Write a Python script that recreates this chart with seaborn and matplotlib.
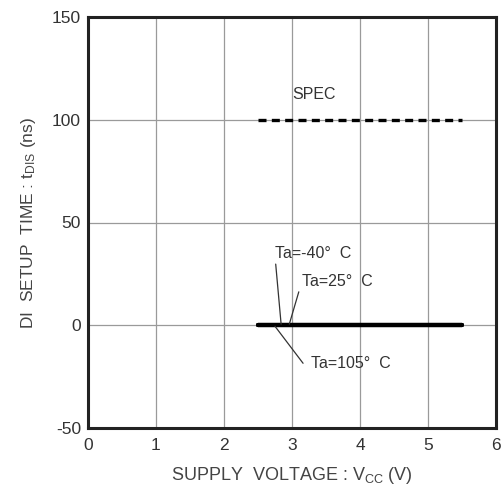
import matplotlib
matplotlib.use("Agg")
import matplotlib.pyplot as plt
import seaborn as sns
import pandas as pd

# Data
voltage = [2.5, 3.0, 3.5, 4.0, 4.5, 5.0, 5.5]
t_m40 = [0, 0, 0, 0, 0, 0, 0]
t_25 = [0, 0, 0, 0, 0, 0, 0]
t_105 = [0, 0, 0, 0, 0, 0, 0]
spec_v = [2.5, 5.5]
spec_t = [100, 100]
x_ticks = [0, 1, 2, 3, 4, 5, 6]
y_ticks = [-50, 0, 50, 100, 150]

sns.set_theme(style="white")
plt.rcParams['font.family'] = ['Liberation Sans', 'DejaVu Sans']

fig = plt.figure(figsize=(5.04, 4.91), dpi=100)
ax = fig.add_axes([88/504, 1-428/491, (496-88)/504, (428-17)/491])

df = pd.DataFrame({
    "V": voltage * 3,
    "t": t_m40 + t_25 + t_105,
    "Ta": ["-40"] * len(voltage) + ["25"] * len(voltage) + ["105"] * len(voltage),
})
sns.lineplot(data=df, x="V", y="t", units="Ta", estimator=None, color="black",
             linewidth=3, ax=ax, legend=False)
sns.lineplot(x=spec_v, y=spec_t, color="black", linewidth=2.4, linestyle=(0, (2.4, 1.6)), ax=ax)

ax.set_xlim(0, 6)
ax.set_ylim(-50, 150)
ax.set_xticks(x_ticks)
ax.set_yticks(y_ticks)
ax.set_xticklabels([str(v) for v in x_ticks])
ax.set_yticklabels([str(v) for v in y_ticks])
ax.grid(True, color="#9a9a9a", linewidth=0.9)
ax.tick_params(length=0, labelsize=12.5, colors="#333333")
ax.tick_params(axis="x", pad=7)
ax.tick_params(axis="y", pad=5)
for s in ax.spines.values():
    s.set_color("#222222")
    s.set_linewidth(2.2)

ax.set_xlabel(r"SUPPLY  VOLTAGE : V$\mathregular{_{CC}}$ (V)", fontsize=13, color="#444444", labelpad=9)
ax.set_ylabel(r"DI  SETUP  TIME : t$\mathregular{_{DIS}}$ (ns)", fontsize=12.5, color="#444444", labelpad=10)

ax.text(3.33, 108.5, "SPEC", fontsize=11.5, color="#333333", ha="center", va="bottom")
ax.annotate("Ta=-40°  C", xy=(2.84, 0.5), xytext=(2.75, 35), fontsize=11.5, color="#333333",
            ha="left", va="center",
            arrowprops=dict(arrowstyle="-", color="#333333", lw=0.9, shrinkA=0, shrinkB=0,
                            relpos=(0, 0.3)))
ax.annotate("Ta=25°  C", xy=(2.96, 0.5), xytext=(3.14, 21.5), fontsize=11.5, color="#333333",
            ha="left", va="center",
            arrowprops=dict(arrowstyle="-", color="#333333", lw=0.9, shrinkA=0, shrinkB=0,
                            relpos=(0, 0.4)))
ax.annotate("Ta=105°  C", xy=(2.75, -0.5), xytext=(3.28, -18.5), fontsize=11.5, color="#333333",
            ha="left", va="center",
            arrowprops=dict(arrowstyle="-", color="#333333", lw=0.9, shrinkA=0, shrinkB=0,
                            relpos=(-0.1, 0.5)))

fig.savefig("out.png", dpi=100)
